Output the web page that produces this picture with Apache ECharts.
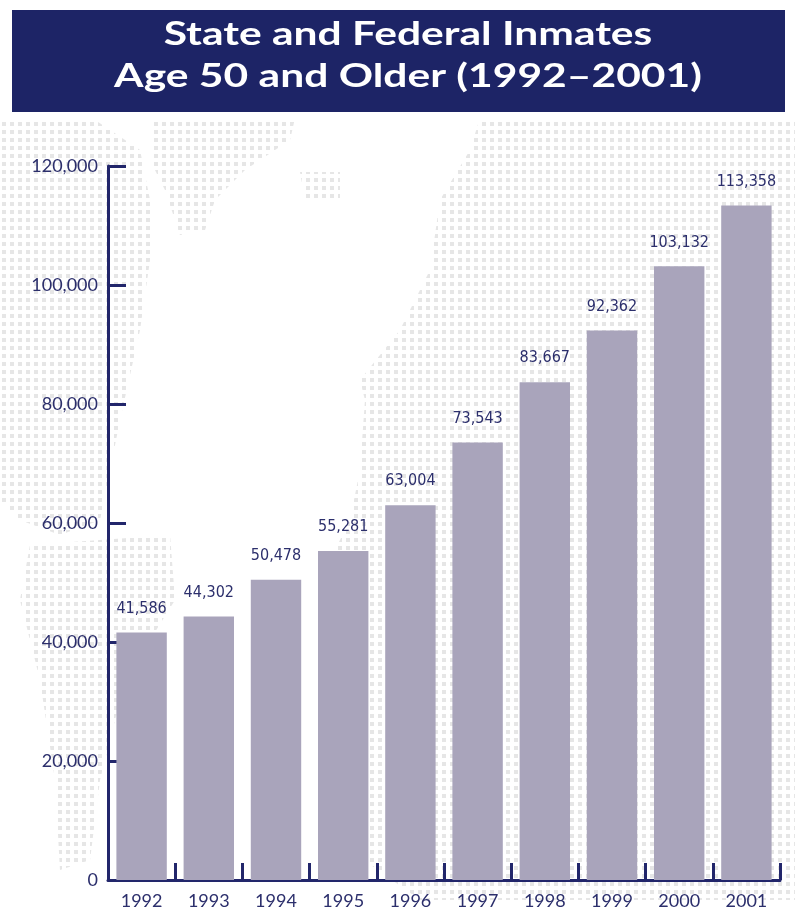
<!DOCTYPE html>
<html>
<head>
<meta charset="utf-8">
<title>State and Federal Inmates Age 50 and Older (1992–2001)</title>
<script src="https://cdn.jsdelivr.net/npm/echarts@6/dist/echarts.min.js"></script>
<style>
  html, body { margin: 0; padding: 0; background: #ffffff; }
  #chart { width: 795px; height: 917px; }
</style>
</head>
<body>
<div id="chart"></div>
<script>
// Inmates aged 50 and older, state and federal prisons
const years = ['1992', '1993', '1994', '1995', '1996', '1997', '1998', '1999', '2000', '2001'];
const inmates = [41586, 44302, 50478, 55281, 63004, 73543, 83667, 92362, 103132, 113358];
const yTicks = [0, 20000, 40000, 60000, 80000, 100000, 120000];
const titleLines = ['State and Federal Inmates', 'Age 50 and Older (1992–2001)'];

const NAVY = '#22266b';
const TEXT = '#2c2f6c';
const BAR = '#a9a4bb';

// halftone dot tile for the faint world-map backdrop
function dotTile() {
  const c = document.createElement('canvas');
  c.width = 8; c.height = 8;
  const g = c.getContext('2d');
  g.fillStyle = '#e6e6e6';
  g.fillRect(2, 2, 4, 4);
  return c;
}
const mapFill = { image: dotTile(), repeat: 'repeat' };

// rough landmass outlines for the backdrop
const landmasses = [
  // north america
  [[0,120],[95,120],[140,150],[150,200],[150,260],[140,330],[120,420],[110,470],[100,520],[60,535],[20,520],[0,500]],
  // greenland
  [[150,118],[295,118],[290,140],[245,170],[215,200],[205,230],[180,235],[165,190],[150,160]],
  // iceland
  [[300,172],[340,172],[340,200],[305,200]],
  // south america
  [[30,545],[170,535],[175,600],[150,640],[120,700],[100,780],[90,860],[60,870],[55,780],[40,680],[20,600]],
  // europe, asia, africa
  [[480,118],[795,118],[795,900],[420,900],[350,850],[330,780],[330,700],[340,600],[330,560],[350,520],[360,470],[365,400],[360,380],[400,330],[430,270],[440,200],[470,150]]
];

const chart = echarts.init(document.getElementById('chart'), null, { renderer: 'canvas' });

const graphics = [];
landmasses.forEach(pts => {
  graphics.push({
    type: 'polygon', z: -10, silent: true,
    shape: { points: pts },
    style: { fill: mapFill }
  });
});
graphics.push({
  type: 'rect', z: 10, silent: true,
  shape: { x: 12, y: 10, width: 773, height: 102 },
  style: { fill: '#1d2466' }
});
titleLines.forEach((line, i) => {
  graphics.push({
    type: 'text', z: 11, silent: true,
    x: 408, y: 35 + i * 42, scaleX: 1.33,
    style: {
      text: line, fill: '#ffffff',
      font: 'bold 32px Lato, "Open Sans", sans-serif',
      align: 'center', verticalAlign: 'middle'
    }
  });
});

const fmt = v => Number(v).toLocaleString('en-US');

chart.setOption({
  backgroundColor: '#ffffff',
  animation: false,
  graphic: graphics,
  grid: { left: 108, right: 15, top: 166, bottom: 37, containLabel: false },
  xAxis: {
    type: 'category',
    data: years,
    boundaryGap: true,
    axisLine: { show: true, lineStyle: { color: NAVY, width: 3 } },
    axisTick: { show: true, inside: true, length: 17, lineStyle: { color: NAVY, width: 3 } },
    axisLabel: {
      color: TEXT, fontFamily: 'Lato, "Open Sans", sans-serif', fontSize: 18, margin: 12
    },
    splitLine: { show: false }
  },
  yAxis: {
    type: 'value',
    min: yTicks[0],
    max: yTicks[yTicks.length - 1],
    interval: yTicks[1] - yTicks[0],
    axisLine: { show: true, lineStyle: { color: NAVY, width: 3 } },
    axisTick: { show: true, inside: true, length: 18, lineStyle: { color: NAVY, width: 3 } },
    axisLabel: {
      color: TEXT, fontFamily: 'Lato, "Open Sans", sans-serif', fontSize: 18, margin: 10,
      formatter: fmt
    },
    splitLine: { show: false }
  },
  series: [{
    type: 'bar',
    data: inmates,
    barCategoryGap: '25%',
    itemStyle: { color: BAR },
    label: {
      show: true, position: 'top', distance: 16,
      color: TEXT,
      fontFamily: '"DejaVu Sans Condensed", "Liberation Sans Narrow", sans-serif',
      fontSize: 16,
      formatter: p => fmt(p.value)
    }
  }]
});
</script>
</body>
</html>
